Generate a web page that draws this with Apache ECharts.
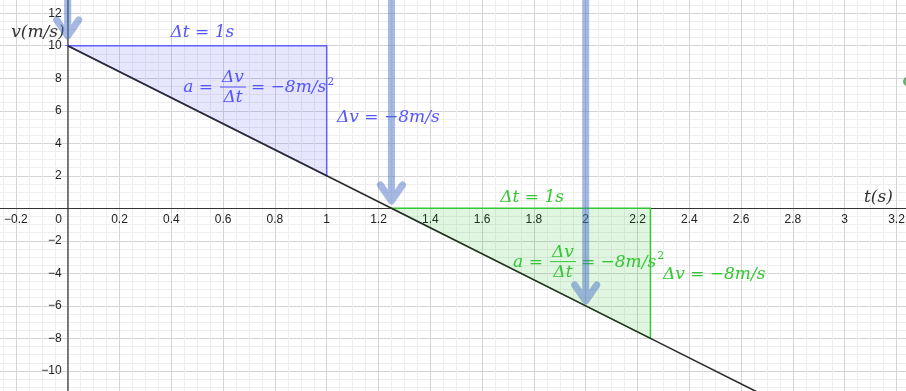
<!DOCTYPE html>
<html>
<head>
<meta charset="utf-8">
<script src="https://cdn.jsdelivr.net/npm/echarts@6/dist/echarts.min.js"></script>
<style>
  html, body { margin: 0; padding: 0; background: #fff; }
  #chart { width: 906px; height: 391px; }
</style>
</head>
<body>
<div id="chart"></div>
<script>
// Axis extents (t in seconds, v in m/s)
const tMin = -0.4, tMax = 3.4, tStep = 0.2;
const vMin = -12, vMax = 14, vStep = 2;

// v(t) = 10 - 8t
const lineT = [0, 1, 1.25, 2, 2.25, 2.8];
const lineV = [10, 2, 0, -6, -8, -12.4];

// Slope triangles
const blueTriangle = [[0, 10], [1, 10], [1, 2]];
const greenTriangle = [[1.25, 0], [2.25, 0], [2.25, -8]];

// Vertical pointer arrows: time and the speed at the tip
const arrowT = [0, 1.25, 2];
const arrowTipV = [10.6, 0.45, -5.7];

// Point sitting at the right border
const pointT = [3.245];
const pointV = [7.8];

const BLUE = '#5555ff';
const BLUE_EDGE = '#6060f5';
const GREEN = '#33c733';
const MATH_FONT = '"DejaVu Serif", "Liberation Serif", serif';

// Plain math-style labels: anchor [t, v], text, colour, alignment
const noteAt = [[0.52, 10.78], [1.04, 5.61], [1.793, 0.685], [2.298, -4.10], [-0.012, 10.78], [3.13, 0.63]];
const noteText = ['Δt = 1s', 'Δv = −8m/s', 'Δt = 1s', 'Δv = −8m/s', 'v(m/s)', 't(s)'];
const noteColor = [BLUE, BLUE, GREEN, GREEN, '#333333', '#333333'];
const noteAlign = ['center', 'left', 'center', 'left', 'right', 'center'];

// Acceleration formulas, anchored at the centre of the fraction bar
const fracAt = [[0.638, 7.46], [1.912, -3.28]];
const fracColor = [BLUE, GREEN];

// Plot area, extended past the window so the axes cross where t = 0 and v = 0
const W = 906, H = 391;
const gridBox = { left: -35.9, right: -42.3, top: -19.3, bottom: -12.4 };
const gridW = W - gridBox.left - gridBox.right;
const gridH = H - gridBox.top - gridBox.bottom;
const yAxisShift = -((0 - tMin) / (tMax - tMin)) * gridW;
const xAxisShift = -((0 - vMin) / (vMax - vMin)) * gridH;

const chart = echarts.init(document.getElementById('chart'));

const measureCtx = document.createElement('canvas').getContext('2d');
function textWidth(text, font) {
  measureCtx.font = font;
  return measureCtx.measureText(text).width;
}

function fmt(v) {
  const s = String(Number(v.toFixed(2)));
  return s.replace('-', '\u2212');
}

const mainFont = 'italic 17px ' + MATH_FONT;
const supFont = '11px ' + MATH_FONT;
const tickFont = 'Liberation Sans, Arial, sans-serif';

const option = {
  animation: false,
  backgroundColor: '#ffffff',
  grid: Object.assign({ containLabel: false, outerBoundsMode: 'none' }, gridBox),
  xAxis: {
    type: 'value', min: tMin, max: tMax, interval: tStep,
    position: 'bottom', offset: xAxisShift,
    axisLine: { onZero: false, lineStyle: { color: '#333', width: 1 } },
    axisTick: { show: false },
    axisLabel: {
      margin: 5, color: '#222', fontSize: 12, fontFamily: tickFont,
      formatter: v => Math.abs(v) < 1e-9 ? '{z|0}' : fmt(v),
      rich: { z: { padding: [0, 18, 0, 0], fontSize: 12, fontFamily: tickFont, color: '#222' } }
    },
    splitLine: { lineStyle: { color: '#d4d4d4', width: 1 } },
    minorTick: { show: false, splitNumber: 4 },
    minorSplitLine: { show: true, lineStyle: { color: '#eeeeee', width: 1 } }
  },
  yAxis: {
    type: 'value', min: vMin, max: vMax, interval: vStep,
    position: 'left', offset: yAxisShift,
    axisLine: { onZero: false, lineStyle: { color: '#555', width: 1.5 } },
    axisTick: { show: false },
    axisLabel: {
      margin: 6, color: '#222', fontSize: 12, fontFamily: tickFont,
      formatter: v => Math.abs(v) < 1e-9 ? '' : fmt(v)
    },
    splitLine: { lineStyle: { color: '#d4d4d4', width: 1 } },
    minorTick: { show: false, splitNumber: 4 },
    minorSplitLine: { show: true, lineStyle: { color: '#eeeeee', width: 1 } }
  },
  series: [
    {
      // filled slope triangles
      type: 'custom',
      silent: true,
      z: 2,
      data: [0, 1],
      renderItem: (params, api) => {
        const blue = params.dataIndex === 0;
        const tri = blue ? blueTriangle : greenTriangle;
        return {
          type: 'polygon',
          shape: { points: tri.map(p => api.coord(p)) },
          style: {
            fill: blue ? 'rgba(85,85,255,0.15)' : 'rgba(0,180,0,0.12)',
            stroke: blue ? BLUE_EDGE : GREEN,
            lineWidth: 1.5
          }
        };
      }
    },
    {
      type: 'line',
      silent: true,
      z: 3,
      data: lineT.map((t, i) => [t, lineV[i]]),
      symbol: 'none',
      lineStyle: { color: '#2b2b2b', width: 1.6 }
    },
    {
      // math labels
      type: 'custom',
      silent: true,
      z: 4,
      data: noteAt,
      renderItem: (params, api) => {
        const i = params.dataIndex;
        const p = api.coord(noteAt[i]);
        return {
          type: 'text',
          style: {
            text: noteText[i], x: p[0], y: p[1],
            align: noteAlign[i], verticalAlign: 'middle',
            font: mainFont, fill: noteColor[i]
          }
        };
      }
    },
    {
      // a = Δv/Δt = −8m/s²
      type: 'custom',
      silent: true,
      z: 4,
      data: fracAt,
      renderItem: (params, api) => {
        const i = params.dataIndex;
        const c = api.coord(fracAt[i]);
        const color = fracColor[i];
        const barW = 26;
        const rightText = '= \u22128m/s';
        const rx = c[0] + barW / 2 + 5;
        const rw = textWidth(rightText, mainFont);
        return {
          type: 'group',
          children: [
            { type: 'text', style: { text: 'a =', x: c[0] - barW / 2 - 7, y: c[1] + 1, align: 'right', verticalAlign: 'middle', font: mainFont, fill: color } },
            { type: 'text', style: { text: 'Δv', x: c[0], y: c[1] - 1, align: 'center', verticalAlign: 'bottom', font: mainFont, fill: color } },
            { type: 'line', shape: { x1: c[0] - barW / 2, y1: c[1], x2: c[0] + barW / 2, y2: c[1] }, style: { stroke: color, lineWidth: 1 } },
            { type: 'text', style: { text: 'Δt', x: c[0], y: c[1] + 2, align: 'center', verticalAlign: 'top', font: mainFont, fill: color } },
            { type: 'text', style: { text: rightText, x: rx, y: c[1] + 1, align: 'left', verticalAlign: 'middle', font: mainFont, fill: color } },
            { type: 'text', style: { text: '2', x: rx + rw + 1, y: c[1] - 5, align: 'left', verticalAlign: 'middle', font: supFont, fill: color } }
          ]
        };
      }
    },
    {
      // thick pointer arrows coming down from the top border
      type: 'custom',
      silent: true,
      z: 5,
      data: arrowT.map((t, i) => [t, arrowTipV[i]]),
      renderItem: (params, api) => {
        const i = params.dataIndex;
        const tip = api.coord([arrowT[i], arrowTipV[i]]);
        const top = api.coord([arrowT[i], vMax])[1];
        const x = tip[0], y = tip[1];
        const d = 'M' + x + ' ' + top + ' L' + x + ' ' + (y - 1) +
          ' M' + (x - 11) + ' ' + (y - 16) + ' L' + x + ' ' + y + ' L' + (x + 11) + ' ' + (y - 16);
        return {
          type: 'path',
          shape: { pathData: d },
          style: {
            fill: null,
            stroke: 'rgba(75,115,200,0.5)',
            lineWidth: 7,
            lineCap: 'round',
            lineJoin: 'round'
          }
        };
      }
    },
    {
      type: 'scatter',
      silent: true,
      z: 6,
      data: pointT.map((t, i) => [t, pointV[i]]),
      symbolSize: 9,
      itemStyle: { color: '#4caf50', borderColor: '#2e7d32', borderWidth: 1 }
    }
  ]
};

chart.setOption(option);
</script>
</body>
</html>
